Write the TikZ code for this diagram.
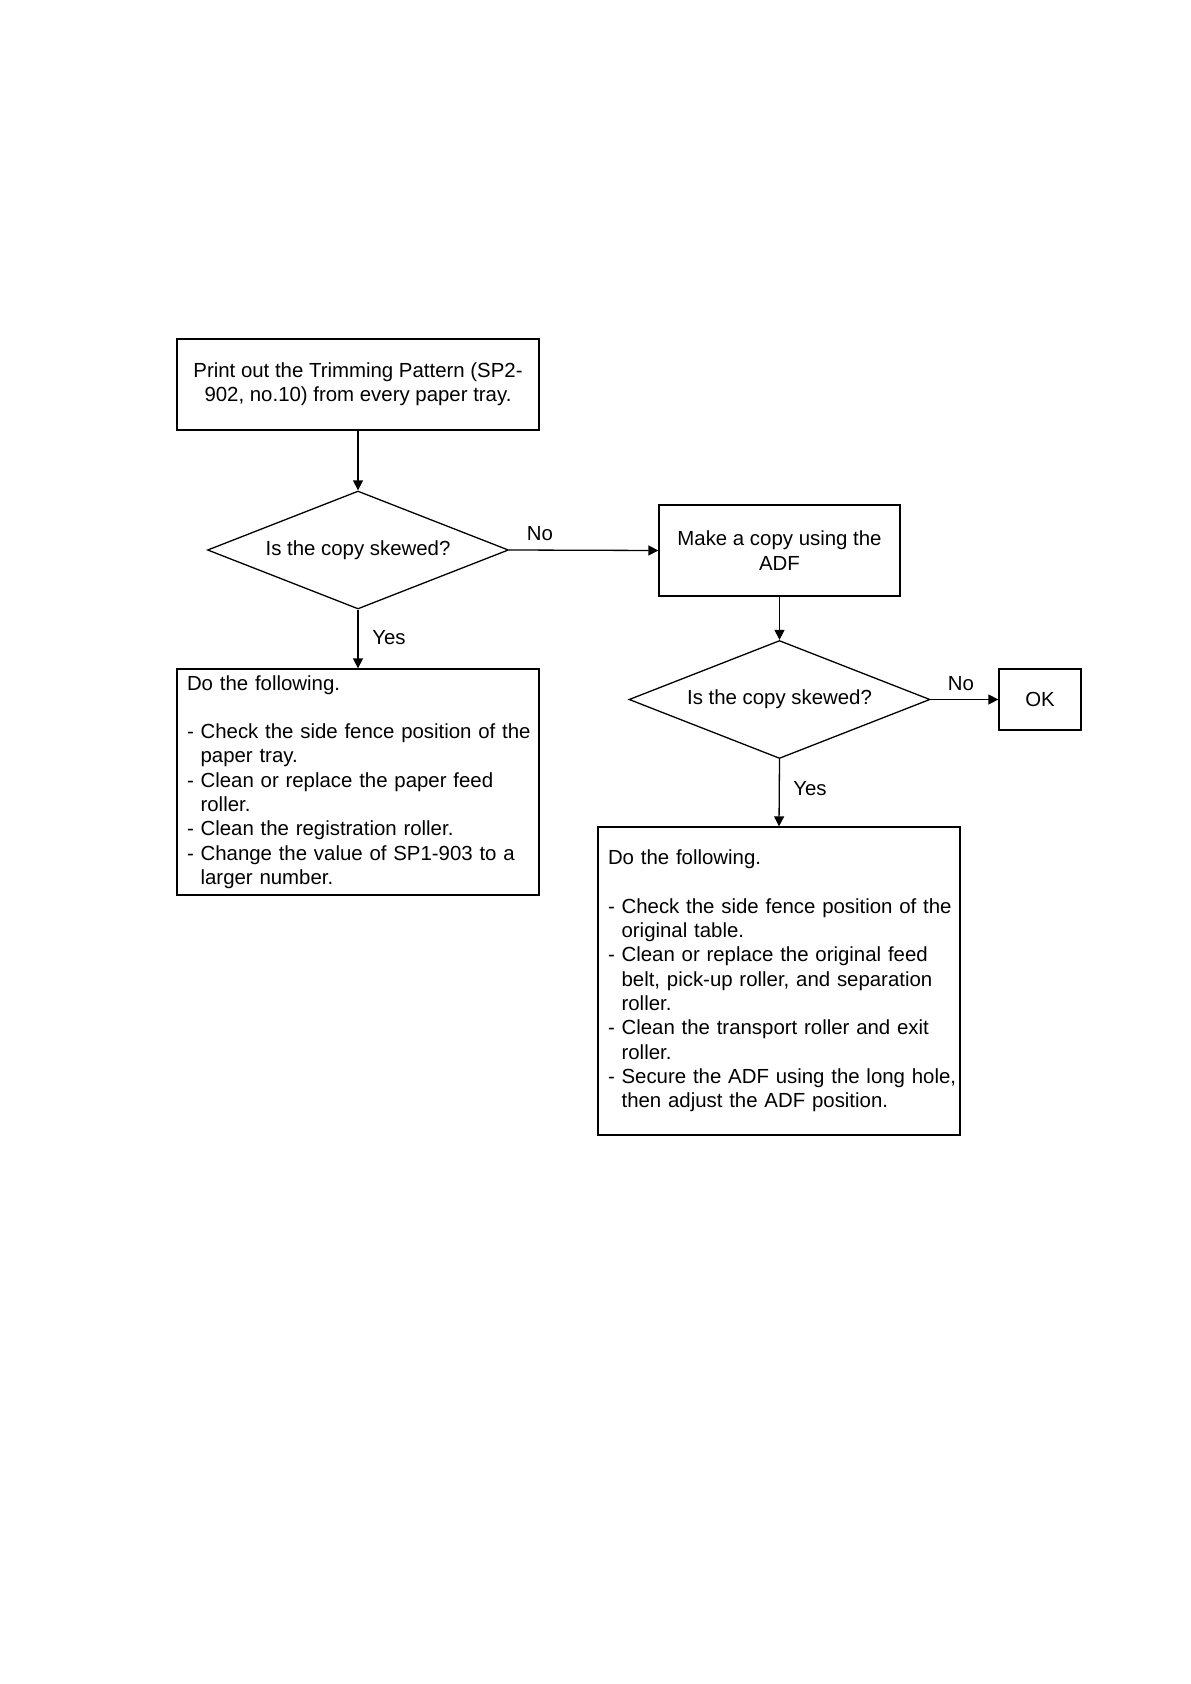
\documentclass[tikz,border=0pt]{standalone}
\usepackage{fontspec}
\setmainfont{Liberation Sans}
\usetikzlibrary{shapes.geometric,arrows.meta}
\newcommand{\fs}{\fontsize{10.2}{12.15}\selectfont}
\newcommand{\hg}{\phantom{- }}
\begin{document}
\begin{tikzpicture}[x=0.5pt,y=-0.5pt,
  every node/.style={font=\fs},
  box/.style={draw, line width=0.65pt, inner sep=0pt, rectangle},
  listbox/.style={box, inner xsep=5pt, inner ysep=0pt, align=left},
  decision/.style={draw, line width=0.65pt, diamond, inner sep=0pt, aspect=2.55,
    minimum width=150.5pt, minimum height=59pt},
  conn/.style={line width=0.65pt, -{Triangle[length=5pt,width=5pt]}},
  lbl/.style={inner sep=1pt}
]
\useasboundingbox (0,0) rectangle (1190,1684);

\node[box, minimum width=181pt, minimum height=45.5pt, align=center] (start) at (358,384.5)
  {Print out the Trimming Pattern (SP2-\\902, no.10) from every paper tray.};

\node[decision] (d1) at (358,550) {Is the copy skewed?};

\node[box, minimum width=120.5pt, minimum height=45.5pt, align=center] (adf) at (779.5,550.5)
  {Make a copy using the\\ADF};

\node[decision] (d2) at (779.5,699.5) {Is the copy skewed?};

\node[box, minimum width=41pt, minimum height=30.5pt] (ok) at (1040,699.5) {OK};

\node[listbox, text width=171pt, minimum height=113pt] (fix1) at (358,782)
  {Do the following.\\[12.15pt]
   \mbox{- Check the side fence position of the}\\
   \hg paper tray.\\
   \mbox{- Clean or replace the paper feed}\\
   \hg roller.\\
   \mbox{- Clean the registration roller.}\\
   \mbox{- Change the value of SP1-903 to a}\\
   \hg larger number.};

\node[listbox, text width=171pt, minimum height=154pt] (fix2) at (779,981)
  {Do the following.\\[12.15pt]
   \mbox{- Check the side fence position of the}\\
   \hg original table.\\
   \mbox{- Clean or replace the original feed}\\
   \mbox{\hg belt, pick-up roller, and separation}\\
   \hg roller.\\
   \mbox{- Clean the transport roller and exit}\\
   \hg roller.\\
   \mbox{- Secure the ADF using the long hole,}\\
   \mbox{\hg then adjust the ADF position.}};

\draw[conn] (start.south) -- (d1.north);
\draw[conn] (d1.east) -- (adf.west);
\draw[conn] (d1.south) -- (fix1.north);
\draw[conn] (adf.south) -- (d2.north);
\draw[conn] (d2.east) -- (ok.west);
\draw[conn] (d2.south) -- (fix2.north);

\node[lbl] (no1) at (540,534) {No};
\node[lbl] (yes1) at (389,638) {Yes};
\node[lbl] (no2) at (961,684) {No};
\node[lbl] (yes2) at (810,789) {Yes};
\end{tikzpicture}
\end{document}
